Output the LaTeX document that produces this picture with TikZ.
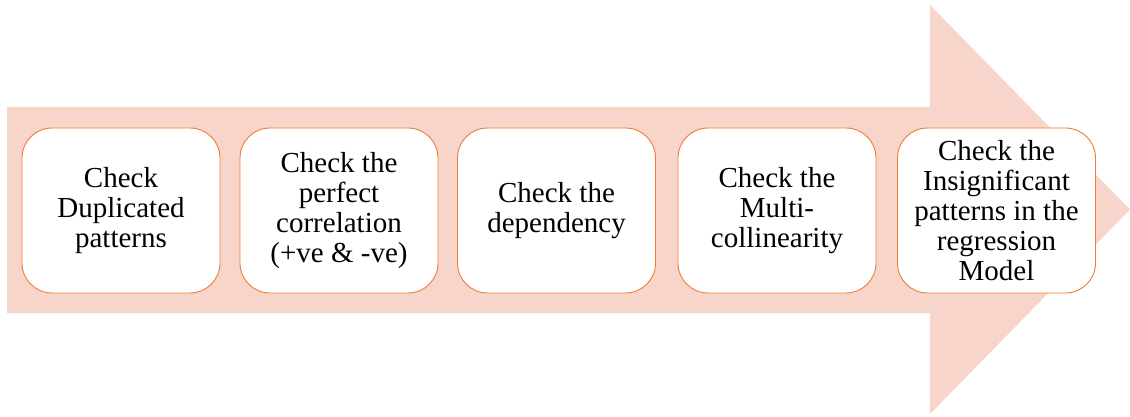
\documentclass[tikz,border=0pt]{standalone}
\usepackage{fontspec}
\setmainfont{Liberation Serif}
\newfontfamily\stepfont{Liberation Serif}
\definecolor{arrowfill}{HTML}{F8D5CB}
\definecolor{boxline}{HTML}{ED7D31}
\begin{document}
\begin{tikzpicture}[x=1pt,y=-1pt,
  stepbox/.style={draw=boxline, line width=0.9pt, fill=white, rounded corners=30pt,
    minimum width=198pt, minimum height=165pt, inner sep=0pt, align=center,
    font=\stepfont\fontsize{29}{30}\selectfont}]
  \useasboundingbox (0,0) rectangle (1130,417);
  % block arrow in the background
  \fill[arrowfill] (7,107) -- (930,107) -- (930,5) -- (1130,209.5)
    -- (930,414) -- (930,313) -- (7,313) -- cycle;
  % process steps
  \node[stepbox] (s1) at (121,210.5) {Check\\Duplicated\\patterns};
  \node[stepbox] (s2) at (339,210.5) {Check the\\perfect\\correlation\\(+ve \& -ve)};
  \node[stepbox] (s3) at (556.5,210.5) {Check the\\dependency};
  \node[stepbox] (s4) at (777,210.5) {Check the\\Multi-\\collinearity};
  \node[stepbox] (s5) at (996.5,210.5) {Check the\\Insignificant\\patterns in the\\regression\\Model};
\end{tikzpicture}
\end{document}
